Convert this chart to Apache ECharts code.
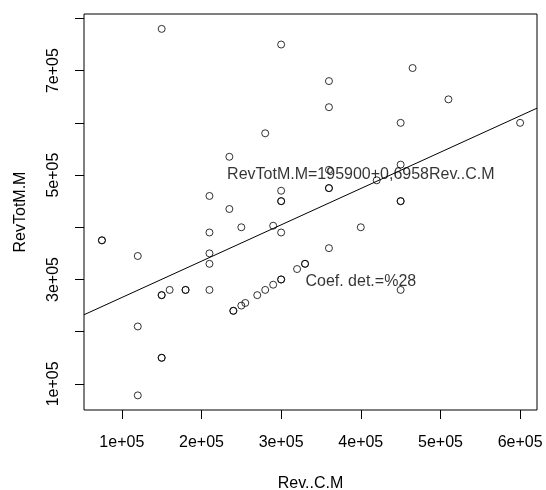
<!DOCTYPE html>
<html>
<head>
<meta charset="utf-8">
<title>RevTotM.M vs Rev..C.M</title>
<script src="https://cdn.jsdelivr.net/npm/echarts@6/dist/echarts.min.js"></script>
<style>
  html, body { margin: 0; padding: 0; background: #fff; }
  #main { width: 546px; height: 490px; }
</style>
</head>
<body>
<div id="main"></div>
<script>
// data
var revCM = [150000, 300000, 465000, 360000, 510000, 360000, 450000, 600000, 280000, 235000,
             450000, 360000, 420000, 360000, 360000, 300000, 210000, 300000, 300000, 450000,
             450000, 235000, 400000, 250000, 290000, 210000, 300000, 75000, 75000, 360000,
             210000, 120000, 210000, 330000, 330000, 320000, 300000, 300000, 290000, 450000,
             210000, 160000, 180000, 180000, 280000, 150000, 150000, 270000, 255000, 250000,
             240000, 240000, 120000, 150000, 150000, 120000];
var revTotMM = [780000, 750000, 705000, 680000, 645000, 630000, 600000, 600000, 580000, 535000,
                520000, 510000, 490000, 475000, 475000, 470000, 460000, 450000, 450000, 450000,
                450000, 435000, 400000, 400000, 403000, 390000, 390000, 375000, 375000, 360000,
                350000, 345000, 330000, 330000, 330000, 320000, 300000, 300000, 290000, 280000,
                280000, 280000, 280000, 280000, 280000, 270000, 270000, 270000, 255000, 250000,
                240000, 240000, 210000, 150000, 150000, 78000];

var xTicks = [100000, 200000, 300000, 400000, 500000, 600000];
var yTicks = [100000, 200000, 300000, 400000, 500000, 600000, 700000, 800000];
var yTickLabels = [100000, 300000, 500000, 700000];

// fitted model
var intercept = 195900;
var slope = 0.6958;
var eqText = 'RevTotM.M=195900+0,6958Rev..C.M';
var r2Text = 'Coef. det.=%28';
var eqPos = [400000, 500000];
var r2Pos = [400000, 295000];

var xLim = [52500, 621200];
var yLim = [50000, 808500];

var FONT = '"Liberation Sans", Arial, Helvetica, sans-serif';

function sci(v) {
  var e = Math.floor(Math.log10(v) + 1e-9);
  var m = Math.round(v / Math.pow(10, e) * 100) / 100;
  return m + 'e+' + (e < 10 ? '0' + e : e);
}

var points = [];
for (var i = 0; i < revCM.length; i++) {
  points.push([revCM[i], revTotMM[i]]);
}
var fitLine = [
  [xLim[0], intercept + slope * xLim[0]],
  [xLim[1], intercept + slope * xLim[1]]
];

var chart = echarts.init(document.getElementById('main'), null, { renderer: 'canvas' });
chart.setOption({
  animation: false,
  backgroundColor: '#fff',
  textStyle: { fontFamily: FONT },
  grid: {
    left: 84, right: 9, top: 14, bottom: 80,
    outerBoundsMode: 'none',
    containLabel: false,
    show: true, borderColor: '#000', borderWidth: 1, backgroundColor: 'transparent'
  },
  xAxis: {
    type: 'value',
    min: xLim[0], max: xLim[1],
    name: 'Rev..C.M',
    nameLocation: 'middle',
    nameGap: 66,
    nameTextStyle: { fontFamily: FONT, fontSize: 16, color: '#000' },
    axisLine: { show: false },
    splitLine: { show: false },
    axisTick: {
      show: true, inside: false, length: 9,
      customValues: xTicks,
      lineStyle: { color: '#000', width: 1 }
    },
    axisLabel: {
      show: true, margin: 25,
      customValues: xTicks,
      fontFamily: FONT, fontSize: 16, color: '#000',
      formatter: sci
    }
  },
  yAxis: {
    type: 'value',
    min: yLim[0], max: yLim[1],
    name: 'RevTotM.M',
    nameLocation: 'middle',
    nameGap: 55,
    nameRotate: 90,
    nameTextStyle: { fontFamily: FONT, fontSize: 16, color: '#000' },
    axisLine: { show: false },
    splitLine: { show: false },
    axisTick: {
      show: true, inside: false, length: 9,
      customValues: yTicks,
      lineStyle: { color: '#000', width: 1 }
    },
    axisLabel: {
      show: true, margin: 22, rotate: 90,
      customValues: yTickLabels,
      fontFamily: FONT, fontSize: 16, color: '#000',
      formatter: sci
    }
  },
  series: [
    {
      type: 'scatter',
      data: points,
      symbol: 'circle',
      symbolSize: 7,
      itemStyle: { color: 'rgba(0,0,0,0)', borderColor: '#000', borderWidth: 1 },
      z: 2
    },
    {
      type: 'line',
      data: fitLine,
      symbol: 'none',
      clip: true,
      lineStyle: { color: '#000', width: 1 },
      z: 3
    },
    {
      type: 'scatter',
      symbol: 'circle',
      symbolSize: 2,
      itemStyle: { color: 'rgba(0,0,0,0)' },
      data: [
        { value: eqPos, label: { formatter: eqText } },
        { value: r2Pos, label: { formatter: r2Text } }
      ],
      label: {
        show: true, position: 'inside',
        align: 'center', verticalAlign: 'middle',
        fontFamily: FONT, fontSize: 16, color: '#000'
      },
      z: 4
    }
  ]
});
</script>
</body>
</html>
